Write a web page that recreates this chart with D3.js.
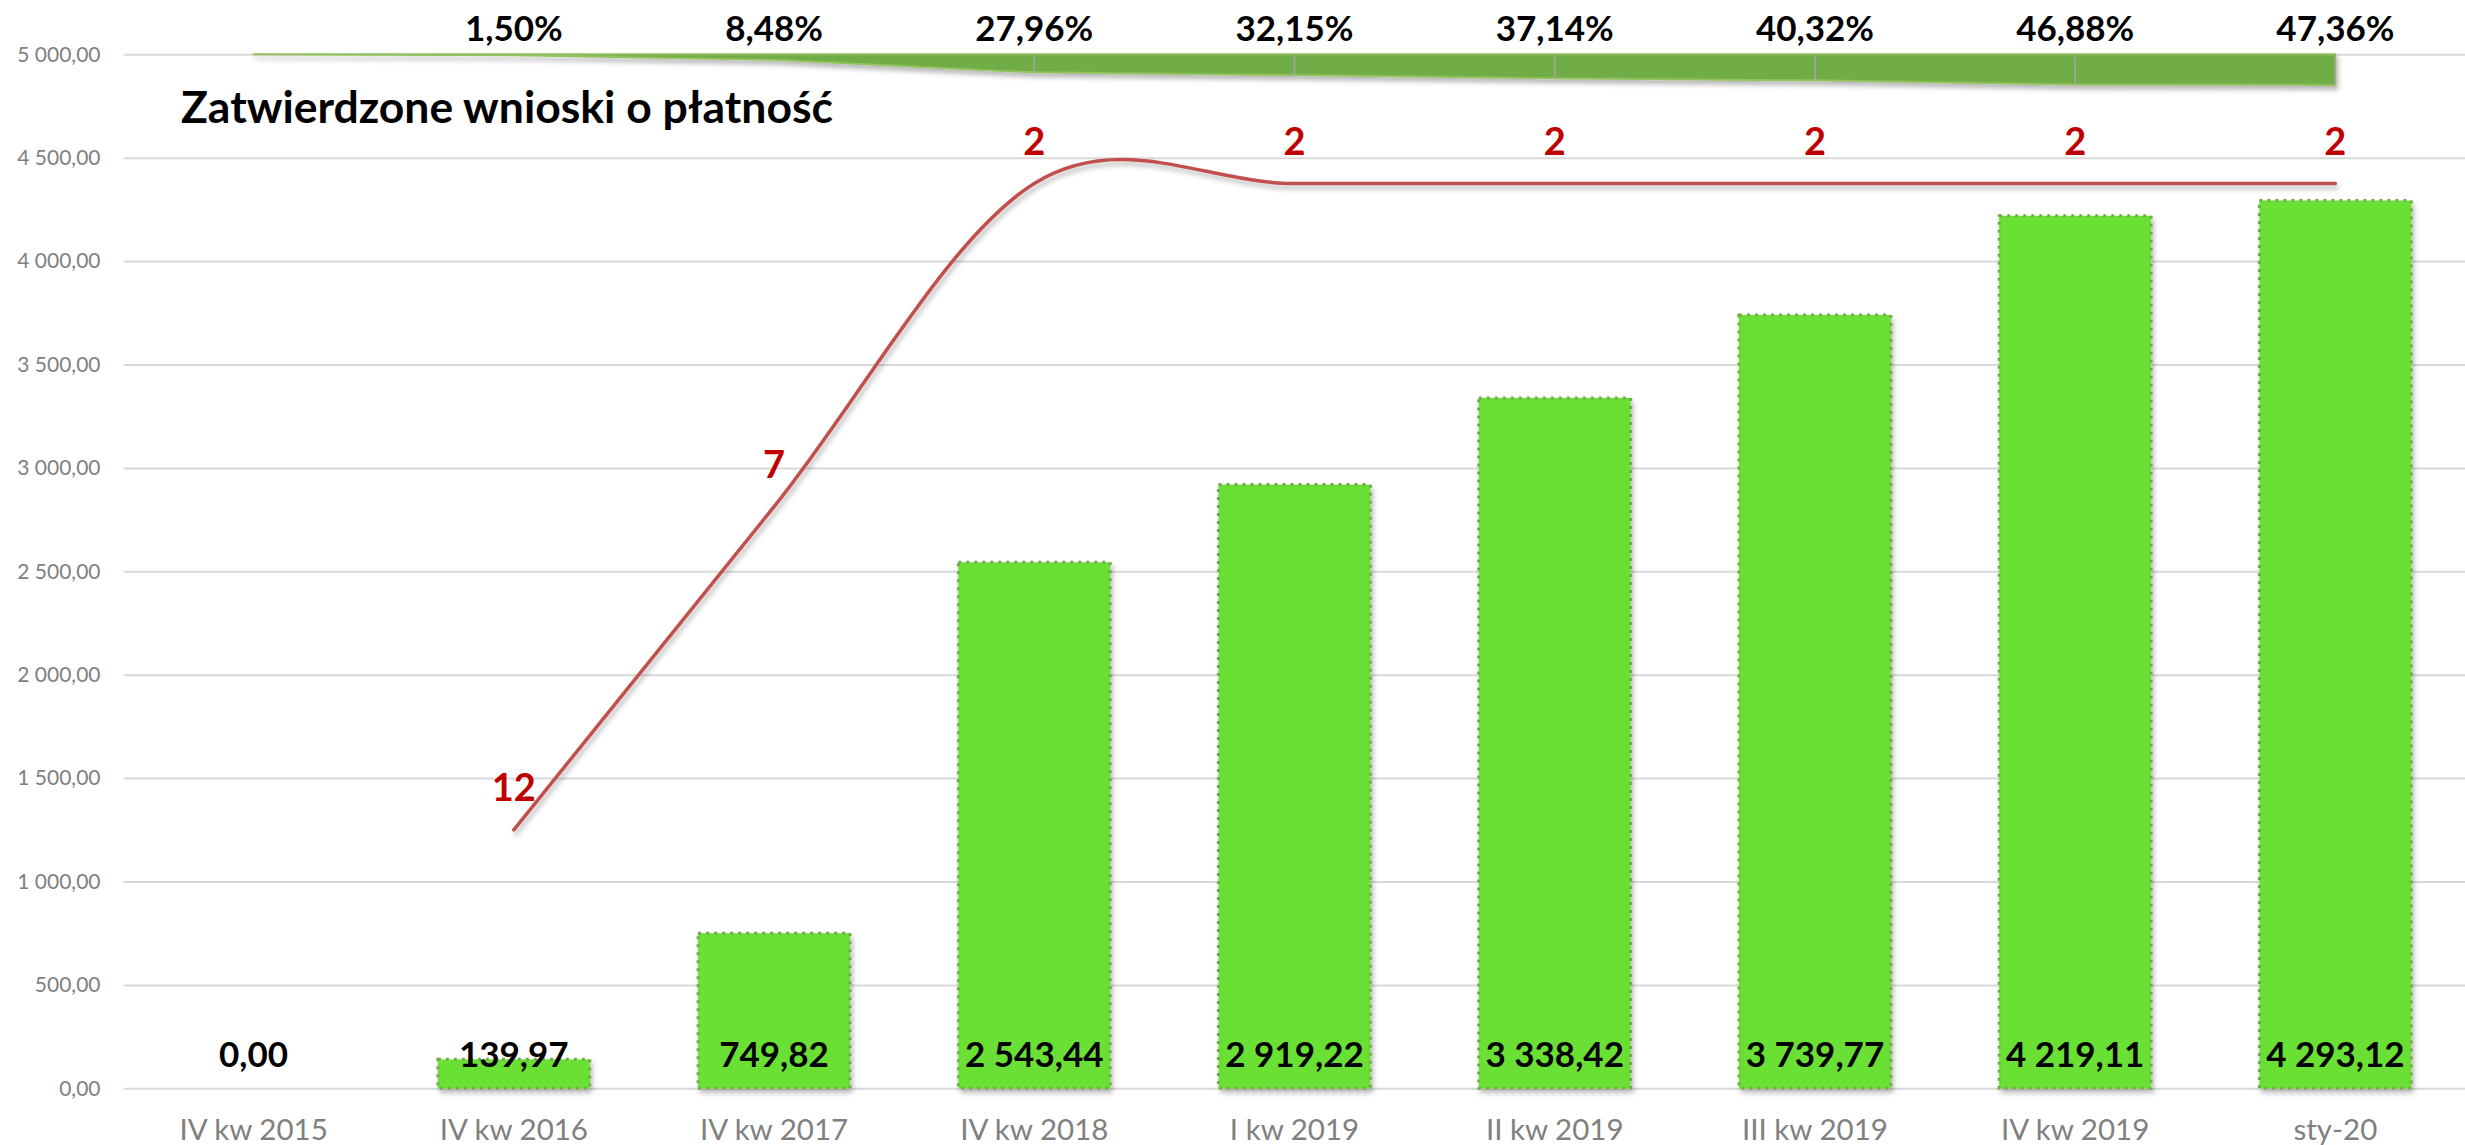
<!DOCTYPE html>
<html>
<head>
<meta charset="utf-8">
<script src="https://cdn.jsdelivr.net/npm/d3@7"></script>
<style>
  body { margin: 0; background: #fff; }
  text { font-family: Lato, "Open Sans", sans-serif; }
</style>
</head>
<body>
<div id="chart"></div>
<script>
// data
var categories = ["IV kw 2015", "IV kw 2016", "IV kw 2017", "IV kw 2018", "I kw 2019",
                  "II kw 2019", "III kw 2019", "IV kw 2019", "sty-20"]
var payments = [0, 139.97, 749.82, 2543.44, 2919.22, 3338.42, 3739.77, 4219.11, 4293.12]
var shares = [0, 0.015, 0.0848, 0.2796, 0.3215, 0.3714, 0.4032, 0.4688, 0.4736]
var ranks = [null, 12, 7, 2, 2, 2, 2, 2, 2]
var yTicks = [0, 500, 1000, 1500, 2000, 2500, 3000, 3500, 4000, 4500, 5000]
var title = "Zatwierdzone wnioski o płatność"

var width = 2465,
    height = 1145
var margin = {top: 54.3, right: 0, bottom: 56.7, left: 123.5}

var pl = d3.formatLocale({decimal: ",", thousands: "\u00a0", grouping: [3], currency: ["", ""]})
var fmt = pl.format(",.2f")
var fmtPct = pl.format(".2%")

var svg = d3.select("#chart")
  .append("svg")
    .attr("width", width)
    .attr("height", height)

// soft shadow used by Excel-like marks
var defs = svg.append("defs")
var shadow = defs.append("filter").attr("id", "shadow")
    .attr("x", "-5%").attr("y", "-20%").attr("width", "110%").attr("height", "160%")
shadow.append("feDropShadow")
    .attr("dx", 2).attr("dy", 4).attr("stdDeviation", 2.5)
    .attr("flood-color", "#000").attr("flood-opacity", 0.28)

var x = d3.scaleBand()
  .domain(categories)
  .range([margin.left, width + 0.5])
  .paddingInner(0.416)
  .paddingOuter(0.208)

var y = d3.scaleLinear()
  .domain([0, 5000])
  .range([height - margin.bottom, margin.top])

// hidden secondary axis, reversed (0 at top)
var y2 = d3.scaleLinear()
  .domain([0, 16])
  .range([margin.top, height - margin.bottom])

var cx = function(d) { return x(d) + x.bandwidth() / 2 }

// gridlines + y labels
var yAxis = svg.append("g")
  .attr("transform", "translate(" + margin.left + ",0)")
  .call(d3.axisLeft(y).tickValues(yTicks).tickFormat(fmt).tickSize(-(width - margin.left)).tickPadding(23))
yAxis.select(".domain").remove()
yAxis.selectAll(".tick line").attr("stroke", "#d9d9d9").attr("stroke-width", 2)
yAxis.selectAll(".tick text")
  .attr("fill", "#808080")
  .style("font-size", "21px")

// x labels
var xAxis = svg.append("g")
  .attr("transform", "translate(0," + (height - margin.bottom) + ")")
  .call(d3.axisBottom(x).tickSize(0).tickPadding(0))
xAxis.select(".domain").remove()
xAxis.selectAll(".tick text")
  .attr("y", 52)
  .attr("dy", 0)
  .attr("fill", "#808080")
  .style("font-size", "29.5px")

// bars
svg.append("g")
  .selectAll("rect")
  .data(payments)
  .enter()
  .append("rect")
    .filter(function(d) { return d > 0 })
    .attr("x", function(d, i) { return x(categories[payments.indexOf(d)]) })
    .attr("y", function(d) { return y(d) })
    .attr("width", x.bandwidth())
    .attr("height", function(d) { return y(0) - y(d) })
    .attr("fill", "#6be035")
    .attr("stroke", "#70ad47")
    .attr("stroke-width", 3)
    .attr("stroke-dasharray", "3 5")
    .attr("filter", "url(#shadow)")

// bar labels (inside base)
svg.append("g")
  .selectAll("text")
  .data(payments)
  .enter()
  .append("text")
    .attr("x", function(d, i) { return cx(categories[i]) })
    .attr("y", y(0) - 21)
    .attr("text-anchor", "middle")
    .style("font-size", "35px")
    .style("font-weight", "bold")
    .attr("fill", "#000")
    .text(function(d) { return fmt(d) })

// share area hanging from the top
var area = d3.area()
  .x(function(d, i) { return cx(categories[i]) })
  .y0(y2(0))
  .y1(function(d) { return y2(d) })

svg.append("path")
  .datum(shares)
  .attr("d", area)
  .attr("fill", "#70ad47")
  .attr("stroke", "#94c15f")
  .attr("stroke-width", 2)
  .attr("stroke-linejoin", "round")
  .attr("filter", "url(#shadow)")

// leader lines inside the area
svg.append("g")
  .selectAll("line")
  .data(shares)
  .enter()
  .append("line")
    .filter(function(d) { return d > 0.2 })
    .attr("x1", function(d) { return cx(categories[shares.indexOf(d)]) })
    .attr("x2", function(d) { return cx(categories[shares.indexOf(d)]) })
    .attr("y1", y2(0) + 2)
    .attr("y2", function(d) { return y2(d) })
    .attr("stroke", "#a6a6a6")
    .attr("stroke-width", 1.5)

svg.append("g")
  .selectAll("text")
  .data(shares)
  .enter()
  .append("text")
    .attr("x", function(d, i) { return cx(categories[i]) })
    .attr("y", 41)
    .attr("text-anchor", "middle")
    .style("font-size", "35px")
    .style("font-weight", "bold")
    .attr("fill", "#000")
    .text(function(d) { return d > 0 ? fmtPct(d) : "" })

// rank line (smoothed)
var line = d3.line()
  .defined(function(d) { return d != null })
  .x(function(d, i) { return cx(categories[i]) })
  .y(function(d) { return y2(d) })
  .curve(d3.curveCardinal.tension(0))

svg.append("path")
  .datum(ranks)
  .attr("d", line)
  .attr("fill", "none")
  .attr("stroke", "#c0504d")
  .attr("stroke-width", 3.5)
  .attr("stroke-linecap", "round")
  .attr("filter", "url(#shadow)")

svg.append("g")
  .selectAll("text")
  .data(ranks)
  .enter()
  .append("text")
    .attr("x", function(d, i) { return cx(categories[i]) })
    .attr("y", function(d) { return d == null ? 0 : y2(d) - 29 })
    .attr("text-anchor", "middle")
    .style("font-size", "38px")
    .style("font-weight", "bold")
    .attr("fill", "#c00000")
    .text(function(d) { return d == null ? "" : d })

// title
svg.append("text")
  .attr("x", 181)
  .attr("y", 123)
  .style("font-size", "44.5px")
  .style("font-weight", "bold")
  .attr("fill", "#000")
  .text(title)
</script>
</body>
</html>
